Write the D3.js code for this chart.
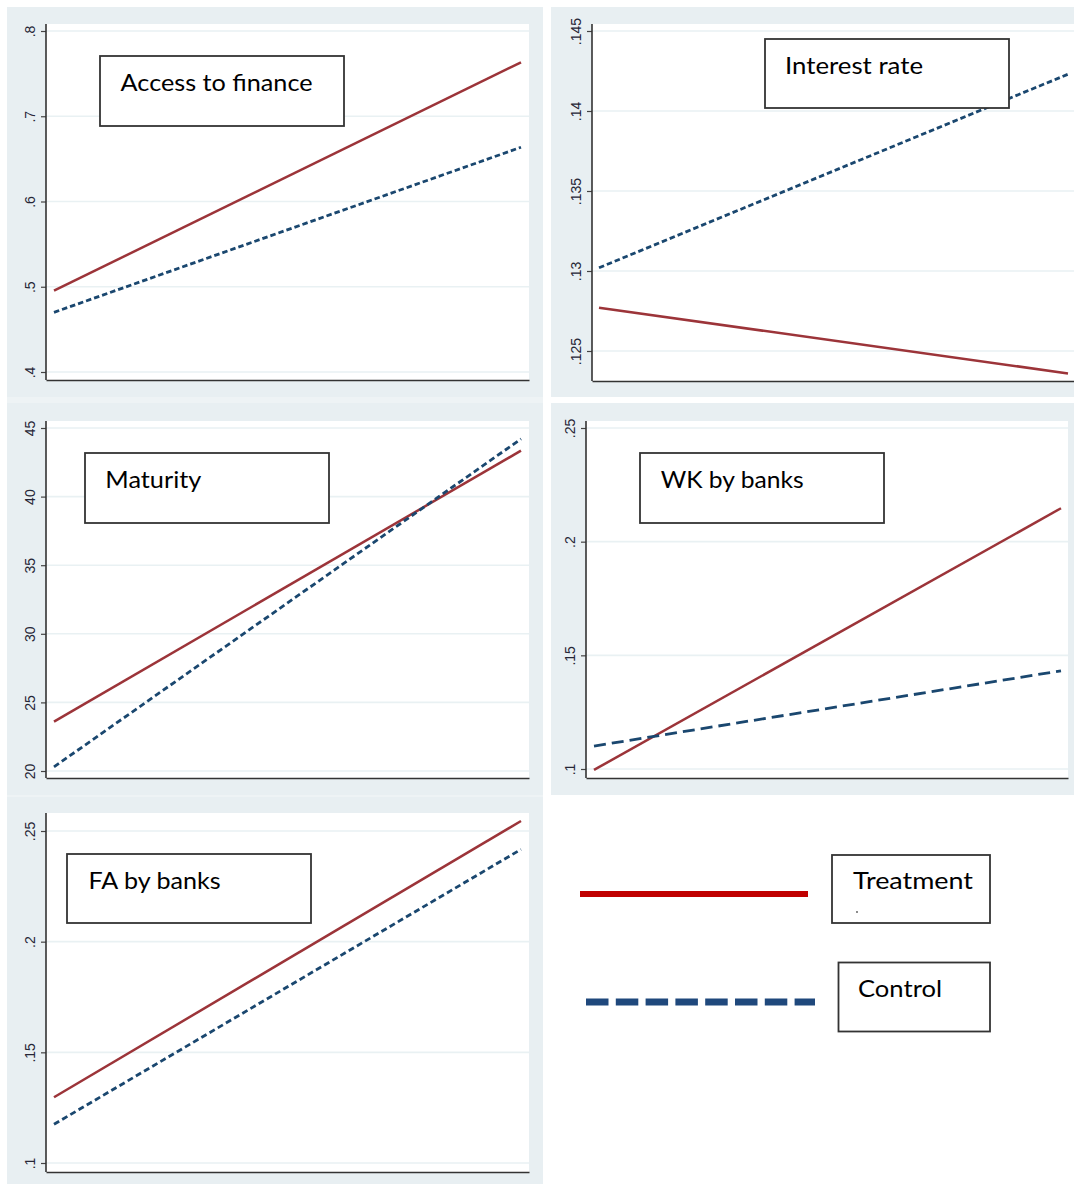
<!DOCTYPE html>
<html>
<head>
<meta charset="utf-8">
<script src="https://cdn.jsdelivr.net/npm/d3@7"></script>
<style>
body { margin: 0; background: #fff; }
svg { display: block; }
</style>
</head>
<body>
<svg width="1074" height="1184"></svg>
<script>
// panel titles, in reading order
const titles = ["Access to finance", "Interest rate", "Maturity", "WK by banks", "FA by banks"];
// two end points of each fitted line
const xPoints = [0, 1];
const treatment = [
    [0.4954, 0.7633],
    [0.1277, 0.1236],
    [23.6, 43.35],
    [0.0996, 0.2147],
    [0.1297, 0.2545]
];
const control = [
    [0.470, 0.6636],
    [0.1302, 0.1423],
    [20.3, 44.2],
    [0.1101, 0.1432],
    [0.1175, 0.2417]
];
const yDomains = [[0.4, 0.8], [0.125, 0.145], [20, 45], [0.1, 0.25], [0.1, 0.25]];
const yTicks = [
    [0.4, 0.5, 0.6, 0.7, 0.8],
    [0.125, 0.13, 0.135, 0.14, 0.145],
    [20, 25, 30, 35, 40, 45],
    [0.1, 0.15, 0.2, 0.25],
    [0.1, 0.15, 0.2, 0.25]
];
const yLabels = [
    [".4", ".5", ".6", ".7", ".8"],
    [".125", ".13", ".135", ".14", ".145"],
    ["20", "25", "30", "35", "40", "45"],
    [".1", ".15", ".2", ".25"],
    [".1", ".15", ".2", ".25"]
];
const legendLabels = ["Treatment", "Control"];

const treatColor = "#9c3439";
const ctrlColor = "#1a476f";
const panelBg = "#e8eff2";
const gridColor = "#e9f1f3";

// where each panel sits on the page
const layout = [
    { bx: 7, by: 7, bw: 536, bh: 390, left: 46, right: 529, top: 24, bottom: 380, y0: 372, y1: 31, lx0: 54, lx1: 521,
      box: [100, 56, 244, 70], tx: 120.6, ty: 91, tw: 192, dash: "5.5,3" },
    { bx: 551, by: 7, bw: 523, bh: 390, left: 592, right: 1074, top: 24, bottom: 381, y0: 351, y1: 31, lx0: 599, lx1: 1068,
      box: [765, 39, 244, 69], tx: 785, ty: 74, tw: 138, dash: "5.5,3" },
    { bx: 7, by: 403, bw: 536, bh: 392, left: 46, right: 529, top: 421, bottom: 778, y0: 771, y1: 428, lx0: 54, lx1: 521,
      box: [85, 453, 244, 70], tx: 105.3, ty: 488, tw: 96, dash: "6,3.5" },
    { bx: 551, by: 403, bw: 523, bh: 392, left: 586, right: 1068, top: 421, bottom: 778, y0: 769, y1: 428, lx0: 594, lx1: 1061,
      box: [640, 453, 244, 70], tx: 660.7, ty: 488, tw: 143, dash: "12,6" },
    { bx: 7, by: 797, bw: 536, bh: 387, left: 46, right: 529, top: 813, bottom: 1172, y0: 1163, y1: 831, lx0: 54, lx1: 521,
      box: [67, 854, 244, 69], tx: 88.6, ty: 889, tw: 132, dash: "6,3.5" }
];

const svg = d3.select("svg");

// faint strip behind the left column
svg.append("rect")
    .attr("x", 7).attr("y", 7).attr("width", 536).attr("height", 1177)
    .attr("fill", "#eef3f5");

titles.forEach(function (title, i) {
    const L = layout[i];
    const g = svg.append("g");

    g.append("rect")
        .attr("x", L.bx).attr("y", L.by)
        .attr("width", L.bw).attr("height", L.bh)
        .attr("fill", panelBg);

    g.append("rect")
        .attr("x", L.left).attr("y", L.top)
        .attr("width", L.right - L.left).attr("height", L.bottom - L.top)
        .attr("fill", "#fff");

    const xScale = d3.scaleLinear().domain([0, 1]).range([L.lx0, L.lx1]);
    const yScale = d3.scaleLinear().domain(yDomains[i]).range([L.y0, L.y1]);

    // gridlines
    g.selectAll(".grid")
        .data(yTicks[i])
        .enter()
        .append("line")
        .attr("x1", L.left).attr("x2", L.right)
        .attr("y1", d => yScale(d)).attr("y2", d => yScale(d))
        .attr("stroke", gridColor)
        .attr("stroke-width", 1.6);

    const line = d3.line()
        .x(d => xScale(d[0]))
        .y(d => yScale(d[1]));

    g.append("path")
        .attr("d", line(xPoints.map((x, j) => [x, treatment[i][j]])))
        .attr("fill", "none")
        .attr("stroke", treatColor)
        .attr("stroke-width", 2.5);

    g.append("path")
        .attr("d", line(xPoints.map((x, j) => [x, control[i][j]])))
        .attr("fill", "none")
        .attr("stroke", ctrlColor)
        .attr("stroke-width", 2.8)
        .attr("stroke-dasharray", L.dash);

    // y axis
    const yAxis = d3.axisLeft(yScale)
        .tickValues(yTicks[i])
        .tickFormat((d, j) => yLabels[i][j])
        .tickSize(5)
        .tickSizeOuter(0);

    const yG = g.append("g")
        .attr("transform", "translate(" + L.left + ",0)")
        .call(yAxis);
    yG.select(".domain").remove();
    yG.selectAll(".tick line").attr("stroke", "#444").attr("stroke-width", 1.2);
    yG.selectAll(".tick text")
        .attr("transform", "rotate(-90)")
        .attr("x", 0)
        .attr("y", -11)
        .attr("dy", 0)
        .attr("text-anchor", "middle")
        .attr("font-family", "Liberation Sans, Arial, sans-serif")
        .attr("font-size", 14)
        .attr("fill", "#262636");

    g.append("line")
        .attr("x1", L.left).attr("x2", L.left)
        .attr("y1", L.top).attr("y2", L.bottom)
        .attr("stroke", "#333")
        .attr("stroke-width", 1.6);

    // x axis, no ticks
    const xAxisScale = d3.scaleLinear().domain([0, 1]).range([L.left, L.right]);
    const xG = g.append("g")
        .attr("transform", "translate(0," + L.bottom + ")")
        .call(d3.axisBottom(xAxisScale).tickValues([]).tickSizeOuter(0));
    xG.select(".domain").attr("stroke", "#333").attr("stroke-width", 1.6);

    // title box
    g.append("rect")
        .attr("x", L.box[0]).attr("y", L.box[1])
        .attr("width", L.box[2]).attr("height", L.box[3])
        .attr("fill", "#fff")
        .attr("stroke", "#333")
        .attr("stroke-width", 1.8);

    g.append("text")
        .attr("x", L.tx).attr("y", L.ty)
        .attr("font-family", "Lato, sans-serif")
        .attr("font-size", 24)
        .attr("textLength", L.tw)
        .attr("lengthAdjust", "spacingAndGlyphs")
        .attr("fill", "#000")
        .text(title);
});

// legend in the empty sixth cell
const legendLine = d3.line().x(d => d[0]).y(d => d[1]);
const legend = [
    { line: [[580, 894], [808, 894]], color: "#c00000", width: 6, dash: null,
      box: [832, 855, 158, 68], tx: 853, ty: 889, tw: 120 },
    { line: [[586, 1002], [815, 1002]], color: "#1f487c", width: 7, dash: "22.5,7.3",
      box: [838.5, 962.5, 151.5, 69], tx: 858, ty: 997, tw: 84 }
];

legend.forEach(function (L, i) {
    svg.append("path")
        .attr("d", legendLine(L.line))
        .attr("fill", "none")
        .attr("stroke", L.color)
        .attr("stroke-width", L.width)
        .attr("stroke-dasharray", L.dash);

    svg.append("rect")
        .attr("x", L.box[0]).attr("y", L.box[1])
        .attr("width", L.box[2]).attr("height", L.box[3])
        .attr("fill", "#fff")
        .attr("stroke", "#333")
        .attr("stroke-width", 1.8);

    svg.append("text")
        .attr("x", L.tx).attr("y", L.ty)
        .attr("font-family", "Lato, sans-serif")
        .attr("font-size", 24)
        .attr("textLength", L.tw)
        .attr("lengthAdjust", "spacingAndGlyphs")
        .attr("fill", "#000")
        .text(legendLabels[i]);
});

// stray dot inside the Treatment box
svg.append("circle")
    .attr("cx", 857).attr("cy", 912).attr("r", 0.9)
    .attr("fill", "#555");
</script>
</body>
</html>
